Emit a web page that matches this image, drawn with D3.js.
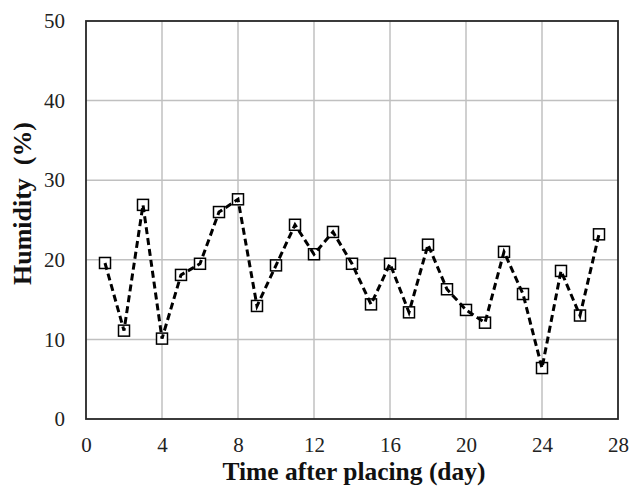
<!DOCTYPE html>
<html><head><meta charset="utf-8">
<script src="https://cdn.jsdelivr.net/npm/d3@7"></script>
<style>body{margin:0;background:#fff}svg{display:block}</style>
</head><body>
<svg id="chart" width="631" height="492"></svg>
<script>
const days = [1,2,3,4,5,6,7,8,9,10,11,12,13,14,15,16,17,18,19,20,21,22,23,24,25,26,27];
const humidity = [19.6,11.1,26.9,10.1,18.1,19.5,26.0,27.6,14.2,19.3,24.4,20.7,23.5,19.5,14.4,19.5,13.4,21.9,16.3,13.7,12.1,21.0,15.7,6.4,18.6,13.0,23.2];
const xTicks = [0,4,8,12,16,20,24,28];
const yTicks = [0,10,20,30,40,50];
const xTitle = "Time after placing (day)";
const yTitle = "Humidity  (%)";

const svg = d3.select("#chart");
const W = 631, H = 492;
const m = {left: 86, top: 21, right: 13, bottom: 73};
const pw = W - m.left - m.right, ph = H - m.top - m.bottom;

svg.append("rect").attr("width", W).attr("height", H).attr("fill", "#fff");

const x = d3.scaleLinear().domain([0, 28]).range([m.left, m.left + pw]);
const y = d3.scaleLinear().domain([0, 50]).range([m.top + ph, m.top]);

const g = svg.append("g");

// grid
g.selectAll("line.vg").data(xTicks.slice(1, -1)).join("line")
  .attr("x1", d => x(d)).attr("x2", d => x(d))
  .attr("y1", m.top).attr("y2", m.top + ph)
  .attr("stroke", "#c0c0c0").attr("stroke-width", 1.5);
g.selectAll("line.hg").data(yTicks.slice(1, -1)).join("line")
  .attr("x1", m.left).attr("x2", m.left + pw)
  .attr("y1", d => y(d)).attr("y2", d => y(d))
  .attr("stroke", "#c0c0c0").attr("stroke-width", 1.5);

// frame
g.append("rect").attr("x", m.left).attr("y", m.top).attr("width", pw).attr("height", ph)
  .attr("fill", "none").attr("stroke", "#262626").attr("stroke-width", 1.8);

// axes
const fontTick = "'Liberation Serif', 'Times New Roman', serif";
const xa = svg.append("g").attr("transform", `translate(0,${m.top + ph})`)
  .call(d3.axisBottom(x).tickValues(xTicks).tickSize(0).tickPadding(18).tickFormat(d3.format("d")));
const ya = svg.append("g").attr("transform", `translate(${m.left},0)`)
  .call(d3.axisLeft(y).tickValues(yTicks).tickSize(0).tickPadding(21).tickFormat(d3.format("d")));
[xa, ya].forEach(a => {
  a.select(".domain").remove();
  a.selectAll("text").attr("font-family", fontTick).attr("font-size", 21).attr("fill", "#222");
});

// markers
svg.append("g").selectAll("rect").data(days).join("rect")
  .attr("x", (d) => x(d) - 5.5).attr("y", (d, i) => y(humidity[i]) - 5.5)
  .attr("width", 11).attr("height", 11)
  .attr("fill", "#fff").attr("stroke", "#000").attr("stroke-width", 1.5);

// dashed line
const line = d3.line().x((d) => x(d)).y((d, i) => y(humidity[i]));
svg.append("path").datum(days).attr("d", line)
  .attr("fill", "none").attr("stroke", "#000").attr("stroke-width", 3)
  .attr("stroke-dasharray", "7,4");

// titles
svg.append("text").attr("x", 354).attr("y", 480)
  .attr("text-anchor", "middle").attr("font-family", fontTick)
  .attr("font-weight", "bold").attr("font-size", 26).attr("fill", "#111")
  .attr("textLength", 263).attr("lengthAdjust", "spacingAndGlyphs")
  .text(xTitle);
svg.append("text").attr("transform", `translate(31,${203.5}) rotate(-90)`)
  .attr("text-anchor", "middle").attr("font-family", fontTick)
  .attr("font-weight", "bold").attr("font-size", 26).attr("fill", "#111")
  .attr("textLength", 163).attr("lengthAdjust", "spacingAndGlyphs")
  .style("white-space", "pre")
  .text(yTitle);
</script>
</body></html>
